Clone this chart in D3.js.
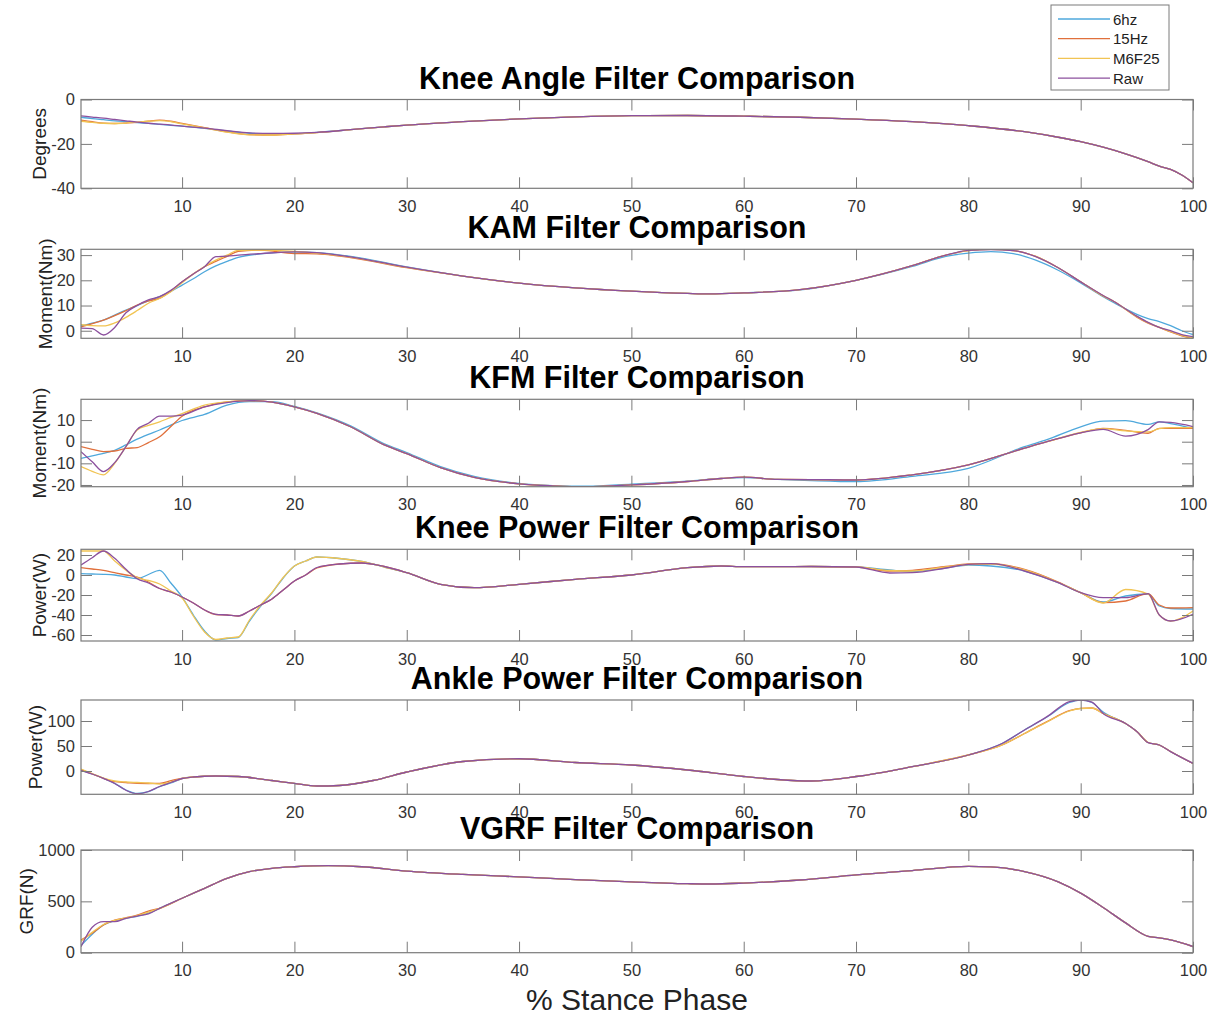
<!DOCTYPE html>
<html>
<head>
<meta charset="utf-8">
<script src="https://cdn.jsdelivr.net/npm/d3@7"></script>
<style>
body { margin: 0; background: #fff; }
text { font-family: "Liberation Sans", Arial, sans-serif; }
</style>
</head>
<body>
<div id="chart"></div>
<script>
// series names, shared by every panel
var seriesNames = ["6hz", "15Hz", "M6F25", "Raw"];
var xTicks = [10, 20, 30, 40, 50, 60, 70, 80, 90, 100];

// ---- Knee angle
var kneeAngleX     = [1,2,3,4,5,6,7,8,9,10,12,14,16,18,20,22,25,28,30,35,40,45,50,55,60,65,70,75,80,85,88,90,92,94,96,97,98,99,100];
var kneeAngle6hz   = [-8,-8.6,-9.1,-9.6,-10,-10.4,-10.8,-11.2,-11.6,-12,-13,-14.2,-15.2,-15.6,-15.4,-14.8,-13.6,-12.3,-11.5,-10,-8.7,-7.8,-7.3,-7.2,-7.5,-8,-8.8,-10,-11.8,-14.5,-17,-19,-21.5,-24.5,-28,-30,-31.5,-34,-37.5];
var kneeAngle15Hz  = [-9.3,-10,-10.6,-10.8,-10.6,-10.3,-9.7,-9.3,-9.8,-10.8,-12.7,-14.6,-15.8,-16,-15.5,-14.9,-13.6,-12.3,-11.5,-10,-8.7,-7.8,-7.3,-7.2,-7.5,-8,-8.8,-10,-11.8,-14.5,-17,-19,-21.5,-24.5,-28,-30,-31.5,-34,-37.5];
var kneeAngleM6F25 = [-9.8,-10.3,-10.7,-10.8,-10.6,-10.2,-9.8,-9.5,-10,-11,-12.8,-14.7,-15.9,-16,-15.5,-14.9,-13.6,-12.3,-11.5,-10,-8.7,-7.8,-7.3,-7.2,-7.5,-8,-8.8,-10,-11.8,-14.5,-17,-19,-21.5,-24.5,-28,-30,-31.5,-34,-37.5];
var kneeAngleRaw   = [-7.4,-7.9,-8.4,-9,-9.6,-10.2,-10.7,-11.1,-11.5,-12,-12.9,-14,-15,-15.3,-15.2,-14.8,-13.6,-12.3,-11.5,-10,-8.7,-7.8,-7.3,-7.2,-7.5,-8,-8.8,-10,-11.8,-14.5,-17,-19,-21.5,-24.5,-28,-30,-31.5,-34,-37.5];
var kneeAngleTicks = [-40, -20, 0];

// ---- KAM
var kamX     = [1,2,3,4,5,6,7,8,9,10,11,12,13,14,15,17,20,22,25,30,35,40,45,50,55,57,60,65,70,75,78,80,82,84,86,88,90,92,93,95,96,97,98,99,100];
var kam6hz   = [1.9,3,4.2,6.2,8.2,10,11.8,13.5,15.6,18.1,20.6,23.4,25.7,27.5,29.1,30.5,31.3,31,29.5,25.3,21.7,18.9,17,15.7,14.8,14.6,15,16.2,20,25.5,29.5,30.8,31.4,30.6,28,24,19,13.5,11,6.5,4.8,3.6,2,0,-1.5];
var kam15Hz  = [1.5,2.8,4.2,6,8,10.2,11.8,12.9,15.8,19.4,22.5,25.4,27.5,29.5,31.5,32,30.6,30.5,29,25,21.7,18.9,17,15.7,14.8,14.6,15,16.3,20,25.8,30,31.8,32.3,31.8,29.5,25,19.4,13.8,11.5,5.4,3,1.3,-0.5,-2,-3];
var kamM6F25 = [2.4,2,1.9,3.1,5.3,8,10.9,12.8,15.5,19,22.5,25.5,28,30,31.9,32,31.5,30.8,29.2,25.1,21.7,18.9,17,15.7,14.8,14.6,15,16.3,20,25.8,30,31.8,32.3,31.8,29.5,25,19.4,13.8,11.5,5.6,3.2,1.3,-0.3,-1.8,-2.8];
var kamRaw   = [1,0.8,-1.7,1.3,7.1,10,12.2,13.5,16,19.4,22.5,25.4,29.4,29.6,30,30.6,31.3,31,29.3,25.2,21.7,18.9,17,15.7,14.8,14.6,15,16.3,20,25.8,30,31.9,32.2,31.8,29.4,25,19.4,14,11.5,5.8,3.3,1.3,0,-1.5,-2.3];
var kamTicks = [0, 10, 20, 30];

// ---- KFM
var kfmX     = [1,2,3,4,5,6,7,8,9,10,12,14,16,18,20,22,25,28,30,33,36,40,43,46,50,55,58,60,63,66,70,75,80,85,87,90,92,94,96,97,98,100];
var kfm6hz   = [-7.7,-6.6,-5.4,-4,-1.5,1.2,3.4,5.4,7.7,9.8,12.6,16.9,18.5,18.5,16.3,13.3,7.3,-1,-5,-11.5,-16,-19.3,-20.3,-20.6,-19.6,-18.2,-17,-16.6,-17.4,-18,-18.5,-16,-12.3,-2.3,1,6.9,9.5,9.7,8,9.2,8.4,6.2];
var kfm15Hz  = [-2.3,-3.5,-4.6,-4.3,-3.1,-2.7,-0.4,2.3,7,11.8,16.1,18.4,19,18.3,16.1,13.1,6.9,-1.5,-5.5,-12,-16.5,-19.5,-20.4,-20.8,-20,-18.4,-17,-16.4,-17.4,-17.5,-17.7,-15.3,-10.7,-3,0,4.1,6.2,5.2,3.9,6.2,6.2,6.2];
var kfmM6F25 = [-11.5,-13.7,-15.3,-10,-2.3,5.4,7.5,9.2,11.2,13,16.9,18.4,19,18.3,16.1,13.1,6.9,-1.5,-5.5,-12,-16.5,-19.5,-20.4,-20.8,-20,-18.4,-17,-16.4,-17.4,-17.5,-17.7,-15.3,-10.7,-3,0,4.3,6,5,4.5,6,6.5,6.5];
var kfmRaw   = [-4.6,-9.3,-13.8,-9.7,-2.3,5.7,8.5,11.8,11.8,12.3,16.1,18.1,19,18.3,16.1,13.1,6.9,-1.5,-5.5,-12,-16.5,-19.5,-20.4,-20.8,-20,-18.4,-17,-16.4,-17.4,-17.5,-17.7,-15.3,-10.7,-3,0,4.1,5.7,2.6,5.6,9.2,8.9,7];
var kfmTicks = [-20, -10, 0, 10];

// ---- Knee power
var kneePowerX     = [1,2,3,4,5,6,7,8,9,10,11,12,13,14,15,16,17,18,19,20,21,22,24,26,28,30,33,36,40,45,50,55,58,60,63,66,70,73,75,78,80,82,85,88,90,92,94,96,97,98,100];
var kneePower6hz   = [1.3,1,0.7,0,-2,-3.7,0.5,4.7,-8,-22,-40,-56,-65,-63.5,-62.5,-46,-31,-18,-3,9,14,18,16.5,13.5,8,2.3,-9.3,-12.7,-9.3,-4.3,0,7.3,9,8.3,8.3,8.5,8,5,3.5,7,10,9,4,-7.7,-17.7,-27,-21,-19,-31,-33.5,-34];
var kneePower15Hz  = [7.3,6,4.7,2.3,0,-2,-7,-13.5,-17,-22,-28,-35,-39.5,-40,-41,-36,-30,-24,-15,-6,0,7,11,12,8.5,2.3,-9.3,-12.7,-9.3,-4.3,0,7.3,9,8.3,8.3,8.5,8,4,4.7,8.5,11,11.3,5.7,-7,-17.7,-27.7,-26,-18.7,-30,-33,-32.7];
var kneePowerM6F25 = [24,24,24,14,4.7,-2.7,-5.5,-9,-16,-23,-41,-57,-64.5,-63,-62,-45,-30,-17.5,-2.5,9,14,18,16.5,13.5,8,2.3,-9.3,-12.7,-9.3,-4.3,0,7.3,9,8.3,8.3,8.5,8,4.5,4,8,10.5,11,5,-7.5,-17.7,-28,-14.5,-19,-40,-46,-36];
var kneePowerRaw   = [10,17.3,24,16.7,5.7,-3.7,-8,-13.5,-17,-22,-28,-35,-39.3,-40,-41,-36,-30,-24,-15,-6,0,7.5,11,12,8.5,2.3,-9.3,-12.7,-9.3,-4.3,0,7.3,9,8.3,8.3,8.5,8,2,2.3,7,10.7,11.3,4,-7.7,-17.7,-22.7,-22.7,-18.7,-40,-46,-39.3];
var kneePowerTicks = [-60, -40, -20, 0, 20];

// ---- Ankle power
var anklePowerX     = [1,2,3,4,5,6,7,8,9,10,11,13,15,18,20,22,24,27,30,35,40,45,50,55,60,63,66,70,75,80,83,85,87,89,90,91,92,94,95,96,97,98,100];
var anklePower6hz   = [2,-6,-14.7,-24.7,-38,-45,-41.3,-31.3,-24,-15,-12,-10,-11,-19,-24.7,-30,-29,-19,-2,19,24.5,17,12,2,-11,-17,-20,-11,8.7,32,55,82,108,137,142,137,118,95,79,57,52,39,15];
var anklePower15Hz  = [3,-6,-14.7,-21.3,-23,-24.7,-25,-24.7,-19.3,-14.7,-12,-10,-11,-19,-24.7,-30,-29,-19,-2,19,24.5,17,12,2,-11,-17,-20,-11,8.7,32,52,75,98.7,120.7,125.3,126,115,95,79,57,52,39,15];
var anklePowerM6F25 = [4,-5,-14,-20,-22,-23,-24,-26,-22,-15,-12,-10,-11,-19,-24.7,-30,-29,-19,-2,19,24.5,17,12,2,-11,-17,-20,-11,8.7,32,52,75,98,120,125,126,115,95,79,57,52,39,15];
var anklePowerRaw   = [1,-6,-14.7,-25,-38.5,-45.5,-41,-31,-23,-15,-12,-10,-11,-19,-24.7,-30,-29,-19,-2,19,24.5,17,12,2,-11,-17,-20,-11,8.7,32,55,82,108.7,138.7,142,137.7,115,95,79,56.7,52,38.7,15.3];
var anklePowerTicks = [0, 50, 100];

// ---- VGRF
var vgrfX     = [1,2,3,4,5,6,7,8,10,12,14,16,18,20,23,26,30,35,40,45,50,55,57,60,65,70,75,80,82,85,88,90,92,94,96,97,98,100];
var vgrf6hz   = [70,180,270,310,335,355,385,432,530,627,724,789,822,837,847,837,795,762,738,712,689,672,669,678,708,757,800,840,835,790,690,580,440,290,160,145,125,60];
var vgrf15Hz  = [124,189,270,318,340,365,406,432,530,627,724,789,822,837,847,837,795,762,738,712,689,672,669,678,708,757,800,840,835,790,690,580,440,290,160,145,125,60];
var vgrfM6F25 = [110,200,275,315,338,360,395,432,530,627,724,789,822,837,847,837,795,762,738,712,689,672,669,678,708,757,800,840,835,790,690,580,440,290,160,145,125,60];
var vgrfRaw   = [58,247,302,302,335,357,377,432,530,627,724,789,822,837,847,837,795,762,738,712,689,672,669,678,708,757,800,840,835,790,690,580,440,290,160,145,125,60];
var vgrfTicks = [0, 500, 1000];

var colors = ["#4fa8dc", "#e0703c", "#f1c453", "#8c509e"];

var panels = [
	{title: "Knee Angle Filter Comparison", ylabel: "Degrees", x: kneeAngleX, ys: [kneeAngle6hz, kneeAngle15Hz, kneeAngleM6F25, kneeAngleRaw], yDomain: [-40, 0], yTicks: kneeAngleTicks, top: 99.5, bottom: 188.3},
	{title: "KAM Filter Comparison", ylabel: "Moment(Nm)", x: kamX, ys: [kam6hz, kam15Hz, kamM6F25, kamRaw], yDomain: [-3, 32.3], yTicks: kamTicks, top: 249.3, bottom: 338.3},
	{title: "KFM Filter Comparison", ylabel: "Moment(Nm)", x: kfmX, ys: [kfm6hz, kfm15Hz, kfmM6F25, kfmRaw], yDomain: [-20.8, 19.6], yTicks: kfmTicks, top: 399.3, bottom: 486.7},
	{title: "Knee Power Filter Comparison", ylabel: "Power(W)", x: kneePowerX, ys: [kneePower6hz, kneePower15Hz, kneePowerM6F25, kneePowerRaw], yDomain: [-66, 25.7], yTicks: kneePowerTicks, top: 549.3, bottom: 641},
	{title: "Ankle Power Filter Comparison", ylabel: "Power(W)", x: anklePowerX, ys: [anklePower6hz, anklePower15Hz, anklePowerM6F25, anklePowerRaw], yDomain: [-46.6, 142], yTicks: anklePowerTicks, top: 700, bottom: 794.3},
	{title: "VGRF Filter Comparison", ylabel: "GRF(N)", x: vgrfX, ys: [vgrf6hz, vgrf15Hz, vgrfM6F25, vgrfRaw], yDomain: [0, 1000], yTicks: vgrfTicks, top: 850, bottom: 952.7}
];

var svg = d3.select("#chart").append("svg")
	.attr("width", 1219)
	.attr("height", 1020);

var x = d3.scaleLinear().domain([1, 100]).range([81, 1193]);
var axisColor = "#7a7a7a";
var plainNum = function(d) { return String(d); };   // matlab style: hyphen minus, no commas

panels.forEach(function(p, pi) {
	var y = d3.scaleLinear().domain(p.yDomain).range([p.bottom, p.top]);
	var g = svg.append("g").attr("class", "panel");

	g.append("clipPath").attr("id", "clip" + pi)
		.append("rect")
		.attr("x", x.range()[0]).attr("y", p.top)
		.attr("width", x.range()[1] - x.range()[0])
		.attr("height", p.bottom - p.top);

	var line = d3.line()
		.x(function(d) { return x(d[0]); })
		.y(function(d) { return y(d[1]); })
		.curve(d3.curveMonotoneX);

	p.ys.forEach(function(vals, i) {
		var pts = p.x.map(function(xv, j) { return [xv, vals[j]]; });
		g.append("path").datum(pts)
			.attr("clip-path", "url(#clip" + pi + ")")
			.attr("d", line)
			.attr("fill", "none")
			.attr("stroke", colors[i])
			.attr("stroke-width", 1.3);
	});

	// axes, ticks pointing inward like matlab
	var bx = g.append("g").attr("transform", "translate(0," + p.bottom + ")")
		.call(d3.axisBottom(x).tickValues(xTicks).tickSizeInner(-11).tickSizeOuter(0).tickPadding(12).tickFormat(plainNum));
	var tx = g.append("g").attr("transform", "translate(0," + p.top + ")")
		.call(d3.axisTop(x).tickValues(xTicks).tickSizeInner(-11).tickSizeOuter(0).tickFormat(""));
	var ly = g.append("g").attr("transform", "translate(" + x.range()[0] + ",0)")
		.call(d3.axisLeft(y).tickValues(p.yTicks).tickSizeInner(-11).tickSizeOuter(0).tickPadding(6).tickFormat(plainNum));
	var ry = g.append("g").attr("transform", "translate(" + x.range()[1] + ",0)")
		.call(d3.axisRight(y).tickValues(p.yTicks).tickSizeInner(-11).tickSizeOuter(0).tickFormat(""));

	[bx, tx, ly, ry].forEach(function(a) {
		a.select(".domain").remove();
		a.selectAll("line").attr("stroke", axisColor);
		a.selectAll("text").attr("fill", "#333").style("font-size", "16.5px").attr("font-family", "\"Liberation Sans\", Arial, sans-serif");
	});

	g.append("rect")
		.attr("x", x.range()[0]).attr("y", p.top)
		.attr("width", x.range()[1] - x.range()[0])
		.attr("height", p.bottom - p.top)
		.attr("fill", "none")
		.attr("stroke", axisColor)
		.attr("stroke-width", 1.2);

	g.append("text")
		.text(p.title)
		.attr("x", (x.range()[0] + x.range()[1]) / 2)
		.attr("y", p.top - 11)
		.attr("text-anchor", "middle")
		.attr("font-weight", "bold")
		.style("font-size", "30.5px")
		.attr("fill", "#000");

	// y label sits just left of the widest tick label
	var bb = ly.node().getBBox();
	var cy = (p.top + p.bottom) / 2;
	g.append("text")
		.text(p.ylabel)
		.attr("transform", "translate(" + (x.range()[0] + bb.x - 5) + "," + cy + ") rotate(-90)")
		.attr("text-anchor", "middle")
		.style("font-size", "19px")
		.attr("fill", "#222");
});

svg.append("text")
	.text("% Stance Phase")
	.attr("x", 637)
	.attr("y", 1010)
	.attr("text-anchor", "middle")
	.style("font-size", "30px")
	.attr("fill", "#222");

// legend
var leg = svg.append("g").attr("class", "legend");
leg.append("rect")
	.attr("x", 1051).attr("y", 5)
	.attr("width", 118).attr("height", 85)
	.attr("fill", "#fff")
	.attr("stroke", "#7a7a7a");
var legItems = leg.selectAll("g.item").data(seriesNames)
	.enter().append("g")
	.attr("class", "item")
	.attr("transform", function(d, i) { return "translate(0," + (19 + i * 19.7) + ")"; });
legItems.append("line")
	.attr("x1", 1058).attr("x2", 1110)
	.attr("stroke", function(d, i) { return colors[i]; })
	.attr("stroke-width", 1.3);
legItems.append("text")
	.text(function(d) { return d; })
	.attr("x", 1113).attr("y", 5.5)
	.style("font-size", "15px")
	.attr("fill", "#222");
</script>
</body>
</html>
